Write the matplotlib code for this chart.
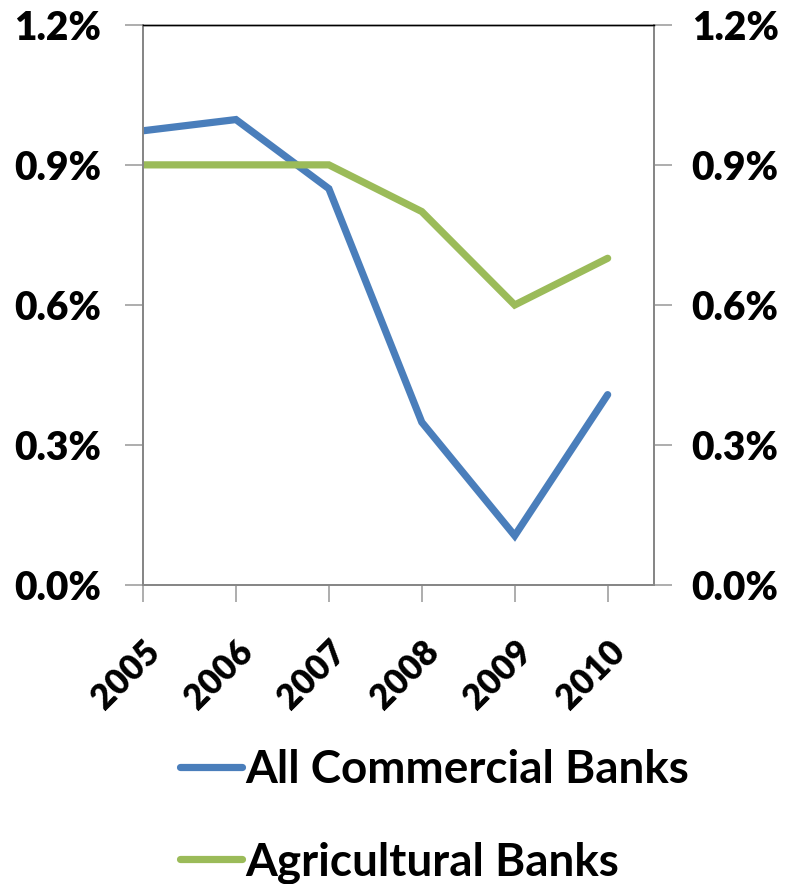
import matplotlib
matplotlib.use("Agg")
import matplotlib.pyplot as plt
from matplotlib.ticker import FuncFormatter

# ---------------------------------------------------------------- data
years = ["2005", "2006", "2007", "2008", "2009", "2010"]
all_commercial = [0.973, 0.997, 0.849, 0.349, 0.106, 0.408]
agricultural = [0.90, 0.90, 0.90, 0.80, 0.60, 0.70]
y_ticks = [0.0, 0.3, 0.6, 0.9, 1.2]

blue = "#4A7EBB"
green = "#9BBB59"
axis_grey = "#868686"

plt.rcParams["font.family"] = ["Lato", "DejaVu Sans"]

fig = plt.figure(figsize=(7.9, 8.84), dpi=100)
ax = fig.add_axes([0.181, 0.338, 0.647, 0.634])

x = list(range(len(years)))
ax.plot(x, all_commercial, color=blue, lw=5.2, solid_capstyle="round",
        solid_joinstyle="miter", label="All Commercial Banks")
ax.plot(x, agricultural, color=green, lw=5.2, solid_capstyle="round",
        solid_joinstyle="miter", label="Agricultural Banks")

ax.set_xlim(0, 5.5)
ax.set_ylim(0, 1.2)
ax.set_xticks(x)
ax.set_xticklabels(years, rotation=45, ha="right", rotation_mode="anchor",
                   fontsize=25, fontweight="heavy")
ax.set_yticks(y_ticks)
pct = FuncFormatter(lambda v, p: "{:.1f}%".format(v))
ax.yaxis.set_major_formatter(pct)
for lab in ax.get_yticklabels():
    lab.set_fontsize(28)
    lab.set_fontweight("heavy")

# right side axis with the same scale
ax2 = ax.twinx()
ax2.set_ylim(0, 1.2)
ax2.set_yticks(y_ticks)
ax2.yaxis.set_major_formatter(pct)
for lab in ax2.get_yticklabels():
    lab.set_fontsize(28)
    lab.set_fontweight("heavy")

for a in (ax, ax2):
    for s in ("left", "right", "bottom"):
        a.spines[s].set_color(axis_grey)
        a.spines[s].set_linewidth(1.3)
    a.spines["top"].set_color("black")
    a.spines["top"].set_linewidth(1.0)
ax.tick_params(axis="y", direction="out", length=13, width=1.2, color="#A0A0A0", pad=17)
ax2.tick_params(axis="y", direction="out", length=13, width=1.2, color="#A0A0A0", pad=14)
ax.tick_params(axis="x", direction="out", length=12, width=1.2, color="#A0A0A0", pad=24)

handles, labels = ax.get_legend_handles_labels()
fig.legend(handles, labels, loc="upper left", bbox_to_anchor=(0.228, 0.153),
           frameon=False, prop={"size": 33, "weight": "bold"},
           handlelength=1.35, handletextpad=0.08,
           labelspacing=1.1, borderaxespad=0, borderpad=0)

fig.savefig("out.png", dpi=100)
